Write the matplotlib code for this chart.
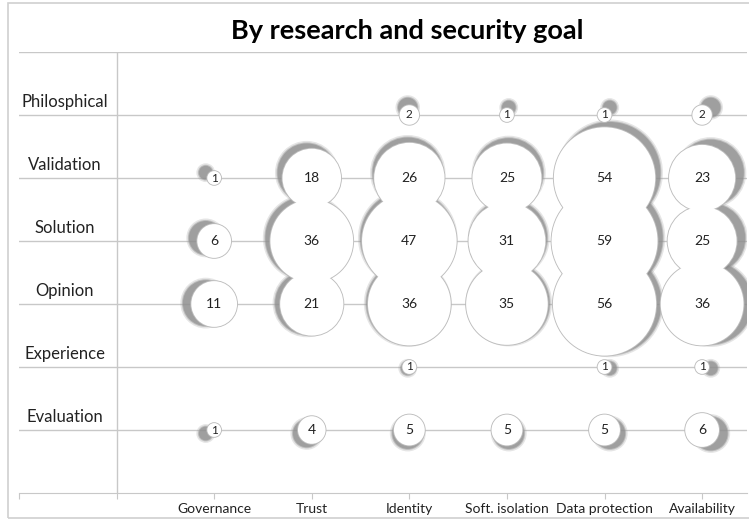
import numpy as np
import matplotlib.pyplot as plt

plt.rcParams['font.family'] = ['Lato', 'DejaVu Sans']

goals = ['Governance', 'Trust', 'Identity', 'Soft. isolation', 'Data protection', 'Availability']
rows = ['Evaluation', 'Experience', 'Opinion', 'Solution', 'Validation', 'Philosphical']

# counts per row, one value per goal (0 = no bubble)
evaluation = [1, 4, 5, 5, 5, 6]
experience = [0, 0, 1, 0, 1, 1]
opinion = [11, 21, 36, 35, 56, 36]
solution = [6, 36, 47, 31, 59, 25]
validation = [1, 18, 26, 25, 54, 23]
philosphical = [0, 0, 2, 1, 1, 2]

table = [evaluation, experience, opinion, solution, validation, philosphical]

xs, ys, vals = [], [], []
for j, row in enumerate(table):
    for i, v in enumerate(row):
        if v > 0:
            xs.append(i + 1)
            ys.append(j + 1)
            vals.append(v)
xs = np.array(xs, float)
ys = np.array(ys, float)
vals = np.array(vals, float)

W, H = 749, 519
fig = plt.figure(figsize=(W / 100, H / 100), dpi=100)
ax = fig.add_axes([19 / W, (H - 493) / H, (747 - 19) / W, (493 - 52) / H])
ax.set_xlim(-1, 6.46)
ax.set_ylim(0, 7)

# outer chart border
fig.patches.append(plt.Rectangle((8 / W, 1 / H), 1.2, (516 - 1) / H, transform=fig.transFigure,
                                 fill=False, ec='#d0d0d0', lw=1.2))

fig.text(407 / W, 1 - 31 / H, 'By research and security goal', ha='center', va='center',
         fontsize=19.5, fontweight='bold', color='black')

# grid
for y in range(1, 8):
    ax.axhline(y, color='#c8c8c8', lw=1, zorder=0)
ax.axvline(0, color='#c8c8c8', lw=1, zorder=0)
for s in ['top', 'right', 'left']:
    ax.spines[s].set_visible(False)
ax.spines['bottom'].set_color('#c8c8c8')
ax.set_xticks(range(-1, 7))
ax.set_xticklabels([''] * 2 + goals, fontsize=10, color='#222222')
ax.tick_params(axis='x', length=4, color='#c8c8c8', pad=3)
ax.set_yticks([])

for j, name in enumerate(rows):
    ax.text(-0.53, j + 1.2, name, ha='center', va='center', fontsize=12, color='#222222')

# bubble size: area proportional to value
r_px = 53 * np.sqrt(vals / vals.max())
size = lambda r: (2 * r * 0.72) ** 2

# perspective shadow
k = 0.035
cx, cy = 3.47, 2.59
sx = xs + k * (xs - cx)
sy = ys + k * (ys - cy)
ax.scatter(sx, sy, s=size(r_px + 2.5), color='#9a9a9a', alpha=0.25, lw=0, zorder=1)
ax.scatter(sx, sy, s=size(r_px + 1), color='#9a9a9a', alpha=0.5, lw=0, zorder=1)
ax.scatter(sx, sy, s=size(r_px), color='#8a8a8a', alpha=0.6, lw=0, zorder=1)

order = np.argsort(-vals)
ax.scatter(xs[order], ys[order], s=size(r_px[order] + 0.9), color='#bdbdbd', lw=0, zorder=2)
ax.scatter(xs[order], ys[order], s=size(r_px[order]), color='white', lw=0, zorder=3)

for x, y, v in zip(xs, ys, vals):
    ax.text(x, y, str(int(v)), ha='center', va='center', fontsize=10 if v > 2 else 8.5,
            color='#222222', zorder=4)

fig.savefig('out.png', dpi=100)
